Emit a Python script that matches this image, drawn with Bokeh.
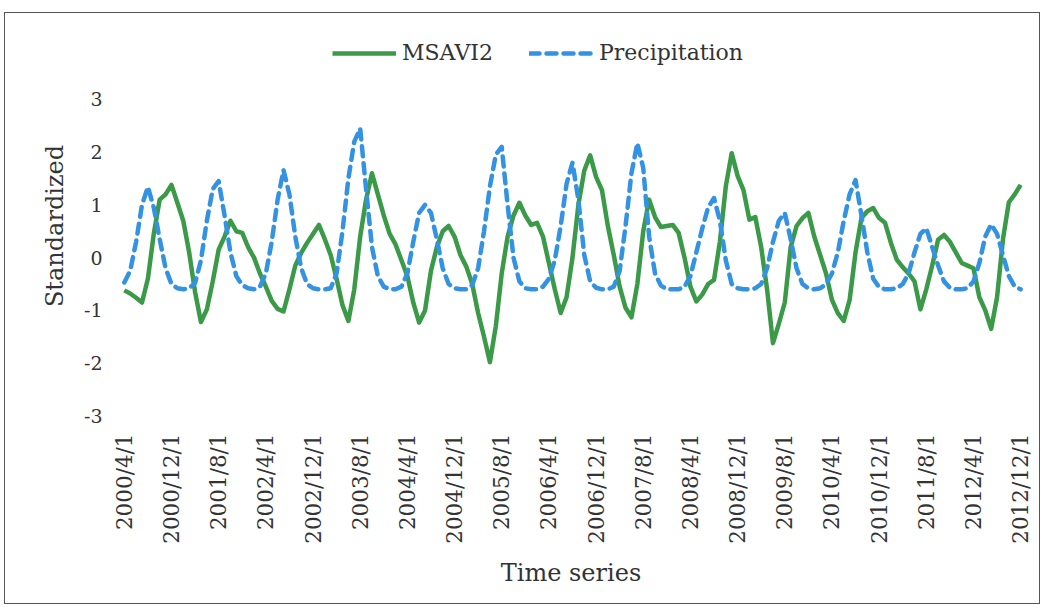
from bokeh.plotting import figure
from bokeh.models import Range1d, FixedTicker, Legend, LegendItem, ColumnDataSource
from bokeh.embed import file_html
from bokeh.resources import INLINE

# ---- data (monthly, 2000/4/1 .. 2012/12/1) ----
tick_labels = ["2000/4/1", "2000/12/1", "2001/8/1", "2002/4/1", "2002/12/1",
               "2003/8/1", "2004/4/1", "2004/12/1", "2005/8/1", "2006/4/1",
               "2006/12/1", "2007/8/1", "2008/4/1", "2008/12/1", "2009/8/1",
               "2010/4/1", "2010/12/1", "2011/8/1", "2012/4/1", "2012/12/1"]
tick_positions = [0, 8, 16, 24, 32, 40, 48, 56, 64, 72,
                  80, 88, 96, 104, 112, 120, 128, 136, 144, 152]

msavi2 = [
    -0.62, -0.68, -0.76, -0.85, -0.40, 0.45, 1.10, 1.20, 1.38, 1.04,
    0.70, 0.10, -0.65, -1.22, -0.98, -0.45, 0.15, 0.40, 0.70, 0.50,
    0.47, 0.20, 0.00, -0.30, -0.55, -0.82, -0.97, -1.02, -0.60, -0.15,
    0.09, 0.28, 0.45, 0.62, 0.35, 0.05, -0.40, -0.90, -1.20, -0.60,
    0.40, 1.10, 1.60, 1.20, 0.80, 0.45, 0.25, -0.05, -0.35, -0.85,
    -1.23, -1.00, -0.25, 0.20, 0.50, 0.60, 0.40, 0.05, -0.17, -0.50,
    -1.05, -1.50, -1.98, -1.30, -0.30, 0.40, 0.80, 1.04, 0.80, 0.62,
    0.66, 0.40, -0.10, -0.60, -1.05, -0.75, 0.00, 1.00, 1.65, 1.94,
    1.53, 1.28, 0.60, 0.05, -0.55, -0.95, -1.13, -0.50, 0.50, 1.10,
    0.77, 0.58, 0.60, 0.62, 0.47, 0.00, -0.55, -0.83, -0.70, -0.50,
    -0.42, 0.30, 1.35, 1.98, 1.55, 1.28, 0.72, 0.77, 0.20, -0.60,
    -1.62, -1.25, -0.85, 0.20, 0.60, 0.75, 0.85, 0.40, 0.05, -0.30,
    -0.80, -1.05, -1.20, -0.80, 0.10, 0.75, 0.88, 0.94, 0.75, 0.66,
    0.28, -0.04, -0.18, -0.30, -0.45, -0.98, -0.60, -0.15, 0.34, 0.43,
    0.30, 0.10, -0.10, -0.15, -0.20, -0.75, -1.00, -1.35, -0.75, 0.35,
    1.05, 1.20, 1.38,
]

precipitation = [
    -0.47, -0.25, 0.30, 1.00, 1.34, 0.95, 0.35, -0.20, -0.50, -0.58,
    -0.60, -0.58, -0.48, -0.05, 0.70, 1.30, 1.45, 0.80, 0.10, -0.35,
    -0.52, -0.58, -0.60, -0.55, -0.30, 0.30, 1.10, 1.66, 1.20, 0.40,
    -0.20, -0.50, -0.58, -0.60, -0.60, -0.58, -0.30, 0.50, 1.50, 2.20,
    2.45, 1.30, 0.20, -0.35, -0.55, -0.60, -0.60, -0.55, -0.30, 0.30,
    0.85, 1.00, 0.85, 0.35, -0.20, -0.50, -0.58, -0.60, -0.60, -0.52,
    -0.20, 0.50, 1.35, 1.95, 2.10, 1.00, 0.00, -0.45, -0.58, -0.60,
    -0.60, -0.55, -0.40, -0.05, 0.60, 1.40, 1.80, 1.10, 0.05, -0.45,
    -0.57, -0.60, -0.60, -0.55, -0.25, 0.60, 1.60, 2.17, 1.70, 0.40,
    -0.30, -0.53, -0.60, -0.60, -0.60, -0.55, -0.35, 0.10, 0.55, 0.95,
    1.13, 0.70, -0.05, -0.50, -0.58, -0.60, -0.60, -0.58, -0.50, -0.20,
    0.30, 0.70, 0.85, 0.35, -0.20, -0.50, -0.58, -0.60, -0.58, -0.50,
    -0.30, 0.10, 0.70, 1.20, 1.47, 0.80, 0.10, -0.40, -0.56, -0.60,
    -0.60, -0.58, -0.50, -0.30, 0.10, 0.45, 0.56, 0.20, -0.15, -0.45,
    -0.57, -0.60, -0.60, -0.58, -0.45, -0.10, 0.40, 0.63, 0.45, 0.05,
    -0.35, -0.55, -0.60,
]

month_index = list(range(len(msavi2)))

FONT = "DejaVu Serif"
TEXT = "#333333"
GREEN = "#3a9a48"
BLUE = "#3393e2"

src = ColumnDataSource(dict(x=month_index, m=msavi2, p=precipitation))

p = figure(width=1036, height=592, output_backend="svg", toolbar_location=None,
           x_range=Range1d(-2, 153.5), y_range=Range1d(-3.2, 4.4),
           min_border_left=107, min_border_right=12, min_border_top=12,
           min_border_bottom=179)
p.styles = {"border": "1px solid #555555", "margin": "12px 0 0 4px"}
p.outline_line_color = None
p.xgrid.visible = False
p.ygrid.visible = False
p.background_fill_color = "white"
p.border_fill_color = "white"

r1 = p.line("x", "m", source=src, line_color=GREEN, line_width=4.5,
            line_join="round")
r2 = p.line("x", "p", source=src, line_color=BLUE, line_width=4.5,
            line_dash="10 7", line_cap="round", line_join="round")

# x axis
p.xaxis.ticker = FixedTicker(ticks=tick_positions)
p.xaxis.major_label_overrides = {t: l for t, l in zip(tick_positions, tick_labels)}
p.xaxis.major_label_orientation = 1.5708
p.xaxis.axis_line_color = None
p.xaxis.major_tick_line_color = None
p.xaxis.minor_tick_line_color = None
p.xaxis.major_label_text_font = FONT
p.xaxis.major_label_text_font_size = "21.5px"
p.xaxis.major_label_text_color = TEXT
p.xaxis.major_label_standoff = 1
p.xaxis.axis_label = "Time series"
p.xaxis.axis_label_text_font = FONT
p.xaxis.axis_label_text_font_size = "24px"
p.xaxis.axis_label_text_font_style = "normal"
p.xaxis.axis_label_text_color = TEXT
p.xaxis.axis_label_standoff = 12

# y axis
yt = [-3, -2, -1, 0, 1, 2, 3]
p.yaxis.ticker = FixedTicker(ticks=yt)
p.yaxis.major_label_overrides = {v: str(v) for v in yt}
p.yaxis.axis_line_color = None
p.yaxis.major_tick_line_color = None
p.yaxis.minor_tick_line_color = None
p.yaxis.major_label_text_font = FONT
p.yaxis.major_label_text_font_size = "19px"
p.yaxis.major_label_text_color = TEXT
p.yaxis.major_label_standoff = 4
p.yaxis.axis_label = "Standardized"
p.yaxis.axis_label_text_font = FONT
p.yaxis.axis_label_text_font_size = "24px"
p.yaxis.axis_label_text_font_style = "normal"
p.yaxis.axis_label_text_color = TEXT
p.yaxis.axis_label_standoff = 12

legend = Legend(items=[LegendItem(label="MSAVI2", renderers=[r1]),
                       LegendItem(label="Precipitation", renderers=[r2])],
                orientation="horizontal", location=(220, 361))
legend.label_text_font = FONT
legend.label_text_font_size = "22px"
legend.label_text_color = TEXT
legend.glyph_width = 64
legend.glyph_height = 22
legend.label_standoff = 6
legend.spacing = 36
legend.padding = 5
legend.border_line_color = None
legend.background_fill_alpha = 0
p.add_layout(legend, "center")

open("out.html", "w").write(file_html(p, INLINE))
